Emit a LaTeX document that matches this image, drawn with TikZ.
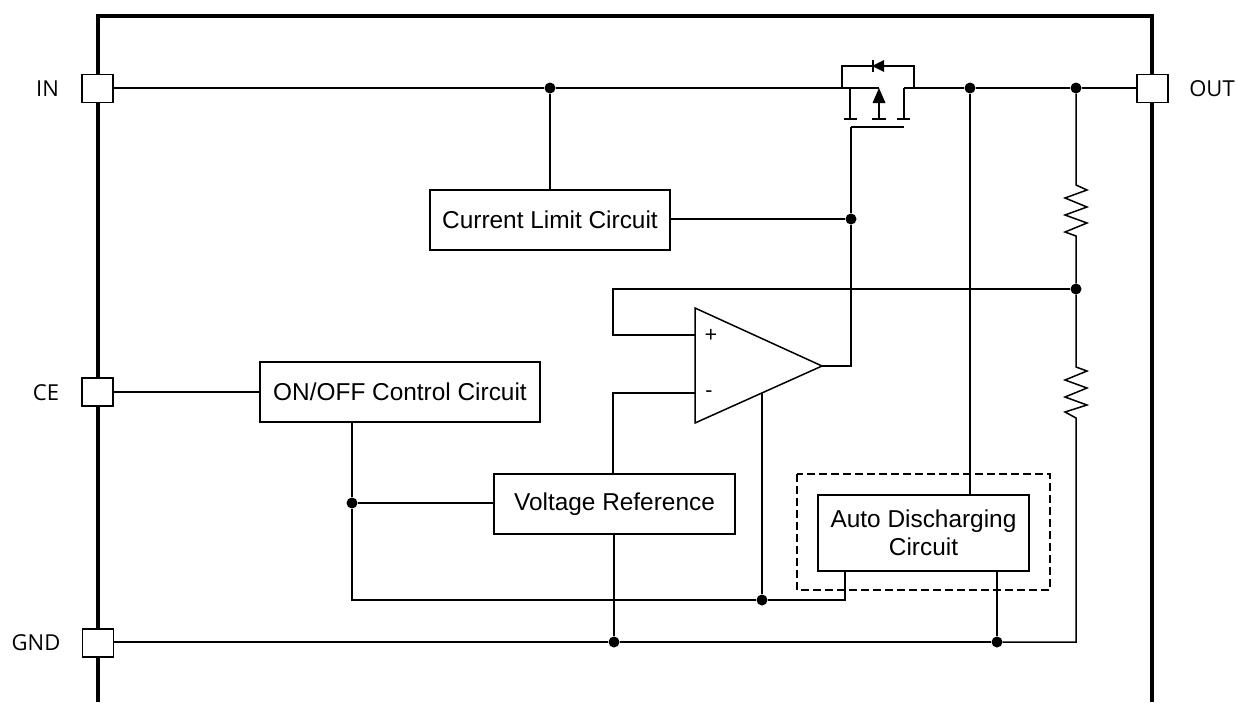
\documentclass[tikz,border=0pt]{standalone}
\usepackage{fontspec}
\setmainfont{Liberation Sans}
\newfontfamily\pinfont{Open Sans}
\tikzset{
  blockbox/.style={draw,line width=1.5pt,fill=white,align=center,font=\fontsize{24.4}{28}\selectfont},
  pinbox/.style={draw,line width=1.5pt,fill=white,minimum width=31pt,minimum height=28pt,inner sep=0pt},
  pinlabel/.style={font=\pinfont\fontsize{22}{26}\selectfont,inner sep=0pt},
  wire/.style={line width=1.5pt},
  junction/.style={circle,fill=black,minimum size=11pt,inner sep=0pt}
}
\begin{document}
\begin{tikzpicture}[x=1pt,y=-1pt]
\useasboundingbox (0,0) rectangle (1236,702);
% package outline
\draw[line width=4pt] (98,702) -- (98,16) -- (1152,16) -- (1152,702);
% pins
\node[pinbox] (pinIN) at (97.5,88.5) {};
\node[pinbox] (pinCE) at (97.5,392) {};
\node[pinbox] (pinGND) at (98,643) {};
\node[pinbox] (pinOUT) at (1152.5,88.5) {};
\node[pinlabel] (lblIN) at (47.5,89) {IN};
\node[pinlabel] (lblCE) at (46,393) {CE};
\node[pinlabel] (lblGND) at (36,642.5) {GND};
\node[pinlabel] (lblOUT) at (1212,89) {OUT};
% blocks
\node[blockbox,minimum width=240pt,minimum height=60pt] (limit) at (550,220) {Current Limit Circuit};
\node[blockbox,minimum width=280pt,minimum height=60pt] (onoff) at (400,392) {ON/OFF Control Circuit};
\node[blockbox,minimum width=241pt,minimum height=60pt] (vref) at (614.5,504) {Voltage Reference};
\draw[wire,dash pattern=on 8pt off 4pt] (797,474) rectangle (1050,590);
\node[blockbox,minimum width=211pt,minimum height=76pt] (auto) at (923.5,533) {Auto Discharging\\Circuit};
% op amp
\coordinate (ampTL) at (695,308);
\coordinate (ampBL) at (695,423);
\coordinate (ampOut) at (822,366);
\coordinate (ampPlus) at (695,335);
\coordinate (ampMinus) at (695,393);
\coordinate (ampGnd) at (762,393);
\draw[wire,line join=miter] (ampTL) -- (ampOut) -- (ampBL) -- cycle;
\node[pinlabel] (lblPlus) at (711,336) {+};
\node[pinlabel] (lblMinus) at (709,394) {-};
% junctions
\node[junction] (jIn) at (550,88) {};
\node[junction] (jDis) at (970,88) {};
\node[junction] (jOut) at (1076,88) {};
\node[junction] (jGate) at (851,219) {};
\node[junction] (jFb) at (1076,289) {};
\node[junction] (jCe) at (352,503) {};
\node[junction] (jLow) at (762,600) {};
\node[junction] (jRefG) at (614,642) {};
\node[junction] (jDisG) at (997,642) {};
% mosfet
\coordinate (fetS) at (850,88);
\coordinate (fetD) at (904,88);
\coordinate (fetB) at (879,119);
\coordinate (gateL) at (851,127);
\coordinate (gateR) at (904,127);
\draw[wire] (pinIN.east |- jIn) -- (jIn) -- (fetS) -- (879,88);
\draw[wire] (fetS) -- (850,119) (844,119) -- (857,119);
\draw[wire] (fetD) -- (904,119) (897,119) -- (910,119);
\draw[wire] (872,119) -- (886,119);
\draw[wire] (fetB) -- (879,100);
\fill (879,88) -- (885.5,103) -- (872.5,103) -- cycle;
\draw[wire] (842,88) -- (842,66) -- (914,66) -- (914,88);
\fill (872,66) -- (884,60) -- (884,72) -- cycle;
\draw[line width=2pt] (872.5,60) -- (872.5,72);
\draw[wire] (gateL) -- (gateR);
% wiring
\draw[wire] (fetD) -- (jDis) -- (jOut) -- (pinOUT.west |- jOut);
\draw[wire] (jIn) -- (limit.north -| jIn);
\draw[wire] (limit.east |- jGate) -- (jGate);
\draw[wire] (ampOut) -- (851,366) -- (jGate) -- (gateL);
\draw[wire] (jDis) -- (jDis |- auto.north);
\draw[wire] (jOut) -- (1076,185) -- (1087,190) -- (1065,198) -- (1087,207) -- (1065,215)
  -- (1087,223) -- (1065,232) -- (1076,236) -- (jFb);
\draw[wire] (jFb) -- (1076,367) -- (1087,371) -- (1065,380) -- (1087,388) -- (1065,397)
  -- (1087,405) -- (1065,412) -- (1076,418) -- (1076,642) -- (jDisG);
\draw[wire] (jFb) -- (613,289) -- (613,335) -- (ampPlus);
\draw[wire] (ampMinus) -- (613,393) -- (613,474);
\draw[wire] (pinCE) -- (onoff.west);
\draw[wire] (352,422) -- (jCe) -- (352,600) -- (jLow) -- (845,600) -- (845,571);
\draw[wire] (jCe) -- (vref.west |- jCe);
\draw[wire] (ampGnd) -- (jLow);
\draw[wire] (jRefG |- vref.south) -- (jRefG);
\draw[wire] (jDisG |- auto.south) -- (jDisG);
\draw[wire] (pinGND.east |- jRefG) -- (jRefG) -- (jDisG);
\end{tikzpicture}
\end{document}
